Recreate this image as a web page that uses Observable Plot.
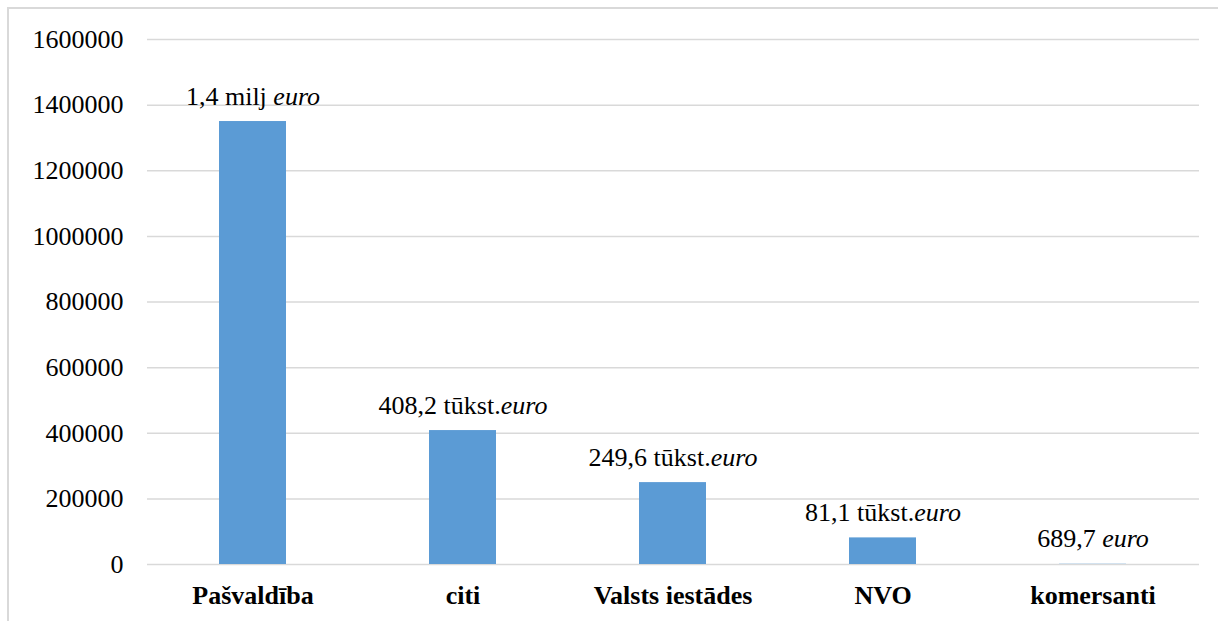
<!DOCTYPE html>
<html>
<head>
<meta charset="utf-8">
<script src="https://cdn.jsdelivr.net/npm/d3@7"></script>
<script src="https://cdn.jsdelivr.net/npm/@observablehq/plot@0.6"></script>
<style>
  body { margin: 0; font-family: 'Liberation Serif'; }
  #border { position: absolute; left: 7px; top: 7px; width: 1211px; height: 614px;
            border-left: 2px solid #d9d9d9; border-top: 2px solid #d9d9d9; box-sizing: border-box; pointer-events: none; }
  #preload { position: absolute; left: -2000px; top: 0; font-family: 'Liberation Serif'; font-size: 26px; }
</style>
</head>
<body>
<div id="preload">1600000 Pašvaldība <b>komersanti</b> <i>euro</i></div>
<div id="c"></div>
<div id="border"></div>
<script>
const categories = ["Pašvaldība", "citi", "Valsts iestādes", "NVO", "komersanti"];
const values = [1350000, 408200, 249600, 81100, 689.7];
const labelMain = ["1,4 milj ", "408,2 tūkst.", "249,6 tūkst.", "81,1 tūkst.", "689,7 "];
const labelItalic = ["euro", "euro", "euro", "euro", "euro"];
const yTicks = [0, 200000, 400000, 600000, 800000, 1000000, 1200000, 1400000, 1600000];

const data = categories.map((c, i) => ({cat: c, value: values[i], label: labelMain[i]}));

const chart = Plot.plot({
  width: 1218,
  height: 621,
  marginLeft: 147,
  marginRight: 19,
  marginTop: 39,
  marginBottom: 57,
  style: {fontFamily: "Liberation Serif", fontSize: "26px"},
  x: {domain: categories, paddingInner: 0.68, paddingOuter: 0.34, align: 0.5, label: null},
  y: {domain: [0, 1600000], label: null},
  marks: [
    Plot.ruleY(yTicks, {stroke: "#d9d9d9", strokeWidth: 1.5, strokeOpacity: 1}),
    Plot.barY(data, {x: "cat", y: "value", fill: "#5b9bd5"}),
    Plot.text(data, {x: "cat", y: "value", text: "label", dy: -17, lineAnchor: "bottom",
      fontFamily: "Liberation Serif", fontSize: 26}),
    Plot.axisY({ticks: yTicks, tickSize: 0, tickPadding: 24, tickFormat: d => String(d),
      fontFamily: "Liberation Serif", fontSize: 26}),
    Plot.axisX({tickSize: 0, tickPadding: 21, fontWeight: "bold", fontFamily: "Liberation Serif", fontSize: 26})
  ]
});
chart.setAttribute("font-family", "Liberation Serif");
document.getElementById("c").appendChild(chart);

d3.select(chart).selectAll("text").each(function() {
  this.setAttribute("font-family", "Liberation Serif");
  const i = labelMain.indexOf(this.textContent);
  if (i >= 0) {
    d3.select(this).append("tspan").attr("font-style", "italic").text(labelItalic[i]);
  }
});
</script>
</body>
</html>
